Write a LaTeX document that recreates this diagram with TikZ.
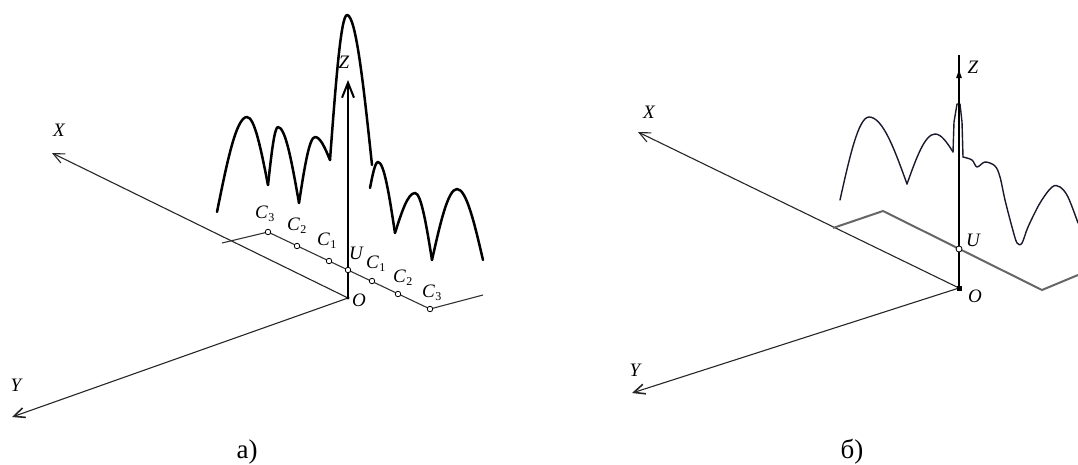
\documentclass[tikz,border=0pt]{standalone}
\usepackage{fontspec}
\setmainfont{Liberation Serif}
\usetikzlibrary{arrows.meta,calc}
\definecolor{curvecol}{RGB}{25,25,45}
\newcommand\mylobe[7]{%
  \pgfmathsetmacro\mlax{#2+0.326*(#4-#2)}%
  \pgfmathsetmacro\mlay{#3+0.512*(#5-#3)}%
  \pgfmathsetmacro\mlbx{#2+0.637*(#4-#2)}%
  \pgfmathsetmacro\mlcx{#4+0.363*(#6-#4)}%
  \pgfmathsetmacro\mldx{#4+0.674*(#6-#4)}%
  \pgfmathsetmacro\mldy{#7+0.512*(#5-#7)}%
  \draw[#1] (#2,#3) .. controls (\mlax,\mlay) and (\mlbx,#5) .. (#4,#5)
     .. controls (\mlcx,#5) and (\mldx,\mldy) .. (#6,#7);}
\newcommand\Csub[1]{\textit{C}\kern0.6pt\raisebox{-3.5pt}{\fontsize{12}{12}\selectfont\upshape #1}}
\begin{document}
\begin{tikzpicture}[x=1pt,y=-1pt,
  axisline/.style={line width=1.1pt, black!85},
  xbarb/.style={-{Straight Barb[length=11pt,width=10pt,line width=1.1pt]}},
  curveA/.style={line width=2.5pt, black, line cap=round, line join=round},
  curveB/.style={line width=1.4pt, curvecol, line cap=round, line join=round},
  baseA/.style={line width=1.1pt, black!80},
  baseB/.style={line width=2pt, black!60},
  ring/.style={circle, draw=black, fill=white, line width=0.8pt, minimum size=5.5pt, inner sep=0pt},
  lab/.style={font=\fontsize{19}{19}\selectfont\itshape, inner sep=0pt},
  capt/.style={font=\fontsize{27}{27}\selectfont, inner sep=0pt}]
\useasboundingbox (0,0) rectangle (1078,464);

% ================= (a) =================
\coordinate (Oa) at (348,298);
\coordinate (Xa) at (52,153);
\coordinate (Ya) at (12,417);
\coordinate (Za) at (348,80);
\draw[axisline, xbarb] (Oa) -- (Xa);
\draw[axisline, -{Straight Barb[length=11pt,width=10pt,line width=1.6pt]}] (Oa) -- (Ya);
\draw[line width=1.3pt, -{Straight Barb[length=15pt,width=12pt,line width=2pt]}] (Oa) -- (Za);
\fill (Oa) circle (1.6pt);

% base polyline with points
\coordinate (Sa) at (222,243);
\coordinate (C3l) at (268,232);
\coordinate (C2l) at (297,246);
\coordinate (C1l) at (329,261);
\coordinate (Ua) at (348,270);
\coordinate (C1r) at (372,281);
\coordinate (C2r) at (398,294);
\coordinate (C3r) at (430,309);
\coordinate (Ea) at (483,295);
\draw[baseA, line join=round] (Sa) -- (C3l) -- (C3r) -- (Ea);
\foreach \p in {C3l,C2l,C1l,Ua,C1r,C2r,C3r}{\node[ring] (r\p) at (\p) {};}

% pattern curve (a)
\mylobe{curveA}{217}{212}{247}{117}{268}{185}
\mylobe{curveA}{268}{185}{278}{127}{299}{203}
\mylobe{curveA}{299}{203}{315}{137}{330}{160}
\mylobe{curveA}{330}{160}{347}{15}{372}{165}
\mylobe{curveA}{370}{188}{378}{162}{395}{233}
\mylobe{curveA}{395}{233}{415}{193}{432}{260}
\mylobe{curveA}{432}{260}{457}{189}{483}{260}

% labels (a)
\node[lab] (lXa) at (59,130) {X};
\node[lab] (lYa) at (16,385) {Y};
\node[lab] (lZa) at (344,62) {Z};
\node[lab] (lOa) at (359,300) {O};
\node[lab] (lUa) at (356,253) {U};
\node[lab, anchor=base west] (l1) at (255,218) {\Csub{3}};
\node[lab, anchor=base west] (l2) at (287,230) {\Csub{2}};
\node[lab, anchor=base west] (l3) at (317,245) {\Csub{1}};
\node[lab, anchor=base west] (l4) at (366,268) {\Csub{1}};
\node[lab, anchor=base west] (l5) at (393,282) {\Csub{2}};
\node[lab, anchor=base west] (l6) at (422,297) {\Csub{3}};
\node[capt] (capa) at (247,452) {а)};

% ================= (b) =================
\coordinate (Ob) at (959,288);
\coordinate (Xb) at (638,132);
\coordinate (Yb) at (632,393);
\coordinate (Zb) at (959,55);
\coordinate (Zt0) at (959,84);
\coordinate (Zt1) at (959,68);
\draw[axisline, xbarb] (Ob) -- (Xb);
\draw[axisline, -{Straight Barb[length=11pt,width=10pt,line width=1.6pt]}] (Ob) -- (Yb);
\draw[line width=1.3pt] (Ob) -- (Zb);
\draw[line width=1.3pt, -{Latex[length=10pt,width=6pt]}] (Zt0) -- (Zt1);
\fill ($(Ob)+(-2.5,-2.5)$) rectangle ++(5,5);

\coordinate (Sb) at (833,228);
\coordinate (Kb) at (883,211);
\coordinate (Ub) at (959,249);
\coordinate (Lb) at (1042,290);
\coordinate (Eb) at (1078,275);
\draw[baseB, line join=round] (Sb) -- (Kb) -- (Lb) -- (Eb);
\node[ring, minimum size=6pt] (rUb) at (Ub) {};

% pattern curve (b)
\mylobe{curveB}{840}{200}{869}{117}{907}{184}
\mylobe{curveB}{907}{184}{935}{134}{953}{152}
\draw[curveB] (953,152) -- (954,122) -- (957,104) -- (960,104) -- (962,122) -- (963,157);
\draw[line width=2.6pt] (959,102) -- (959,124);
\draw[curveB] plot[smooth, tension=0.55] coordinates {(963,157) (972,160) (977,167) (985,162) (995,166) (1000,177) (1005,200) (1012,227) (1017,243) (1022,243) (1028,227) (1040,203) (1052,187) (1060,187) (1068,197) (1078,223)};

% labels (b)
\node[lab] (lXb) at (649,112) {X};
\node[lab] (lYb) at (635,370) {Y};
\node[lab] (lZb) at (973,67) {Z};
\node[lab] (lUb) at (973,240) {U};
\node[lab] (lOb) at (975,296) {O};
\node[capt] (capb) at (852,452) {б)};
\end{tikzpicture}
\end{document}
